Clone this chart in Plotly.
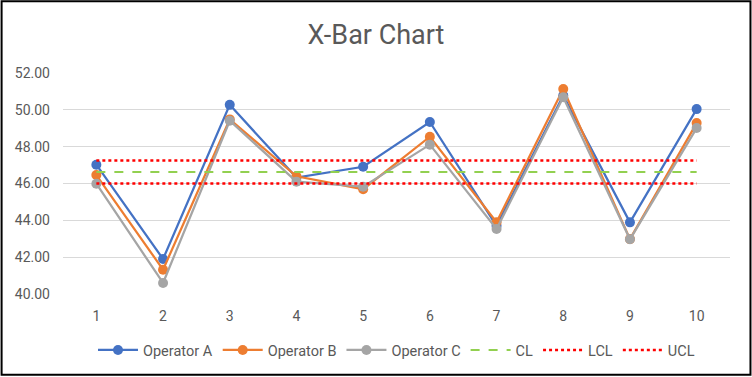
import plotly.graph_objects as go

samples = ["1", "2", "3", "4", "5", "6", "7", "8", "9", "10"]
operator_a = [47.02, 41.90, 50.27, 46.32, 46.91, 49.34, 43.70, 50.78, 43.89, 50.04]
operator_b = [46.46, 41.32, 49.48, 46.39, 45.69, 48.54, 43.90, 51.13, 42.98, 49.28]
operator_c = [45.99, 40.60, 49.41, 46.10, 45.83, 48.11, 43.53, 50.68, 42.97, 49.01]
cl_value = 46.62
lcl_value = 46.00
ucl_value = 47.25
y_ticks = [40, 42, 44, 46, 48, 50, 52]

W, H = 752, 377
ml, mr, mt, mb = 62.5, 21.5, 73, 82
pw, ph = W - ml - mr, H - mt - mb

font_family = "Roboto, Liberation Sans, sans-serif"
txt = "#595959"

fig = go.Figure()
for name, vals, col in [("Operator A", operator_a, "#4472C4"),
                        ("Operator B", operator_b, "#ED7D31"),
                        ("Operator C", operator_c, "#A5A5A5")]:
    fig.add_trace(go.Scatter(x=samples, y=vals, name=name, mode="lines+markers",
                             line=dict(color=col, width=2.25),
                             marker=dict(color=col, size=10)))

fig.add_trace(go.Scatter(x=samples, y=[cl_value] * len(samples), name="CL", mode="lines",
                         line=dict(color="#92D050", width=2, dash="dash")))
fig.add_trace(go.Scatter(x=samples, y=[lcl_value] * len(samples), name="LCL", mode="lines",
                         line=dict(color="#FF0000", width=2.5, dash="dot")))
fig.add_trace(go.Scatter(x=samples, y=[ucl_value] * len(samples), name="UCL", mode="lines",
                         line=dict(color="#FF0000", width=2.5, dash="dot")))

fig.update_layout(
    width=W, height=H,
    margin=dict(l=ml, r=mr, t=mt, b=mb),
    paper_bgcolor="white", plot_bgcolor="white",
    font=dict(family=font_family, color=txt, size=14),
    title=dict(text="X-Bar Chart", x=0.5, xanchor="center", y=1 - 35 / H, yanchor="middle",
               font=dict(size=27, color=txt, family=font_family)),
    xaxis=dict(type="category", range=[-0.5, 9.5], showgrid=False, showline=False,
               zeroline=False, ticks="", ticklabelstandoff=12, tickfont=dict(size=14, color=txt)),
    yaxis=dict(range=[40, 52], tickvals=y_ticks, tickformat=".2f", showgrid=True,
               gridcolor="#D9D9D9", gridwidth=1, zeroline=False, showline=False,
               ticks="", ticklabelstandoff=12, tickfont=dict(size=14, color=txt)),
    legend=dict(orientation="h", x=0.5, xanchor="center", y=-(350 - (H - mb)) / ph,
                yanchor="middle", font=dict(size=14.5, color=txt), itemwidth=40,
                bgcolor="rgba(0,0,0,0)"),
    showlegend=True,
)

fig.add_shape(type="rect", xref="paper", yref="paper",
              x0=-(ml - 1) / pw, x1=(W - ml - 1) / pw,
              y0=-(mb - 1) / ph, y1=(H - mb - 1) / ph,
              line=dict(color="black", width=2), fillcolor="rgba(0,0,0,0)", layer="above")

fig.write_html("out.html", config={"displayModeBar": False},
               post_script="document.body.style.margin='0';document.body.style.padding='0';")
